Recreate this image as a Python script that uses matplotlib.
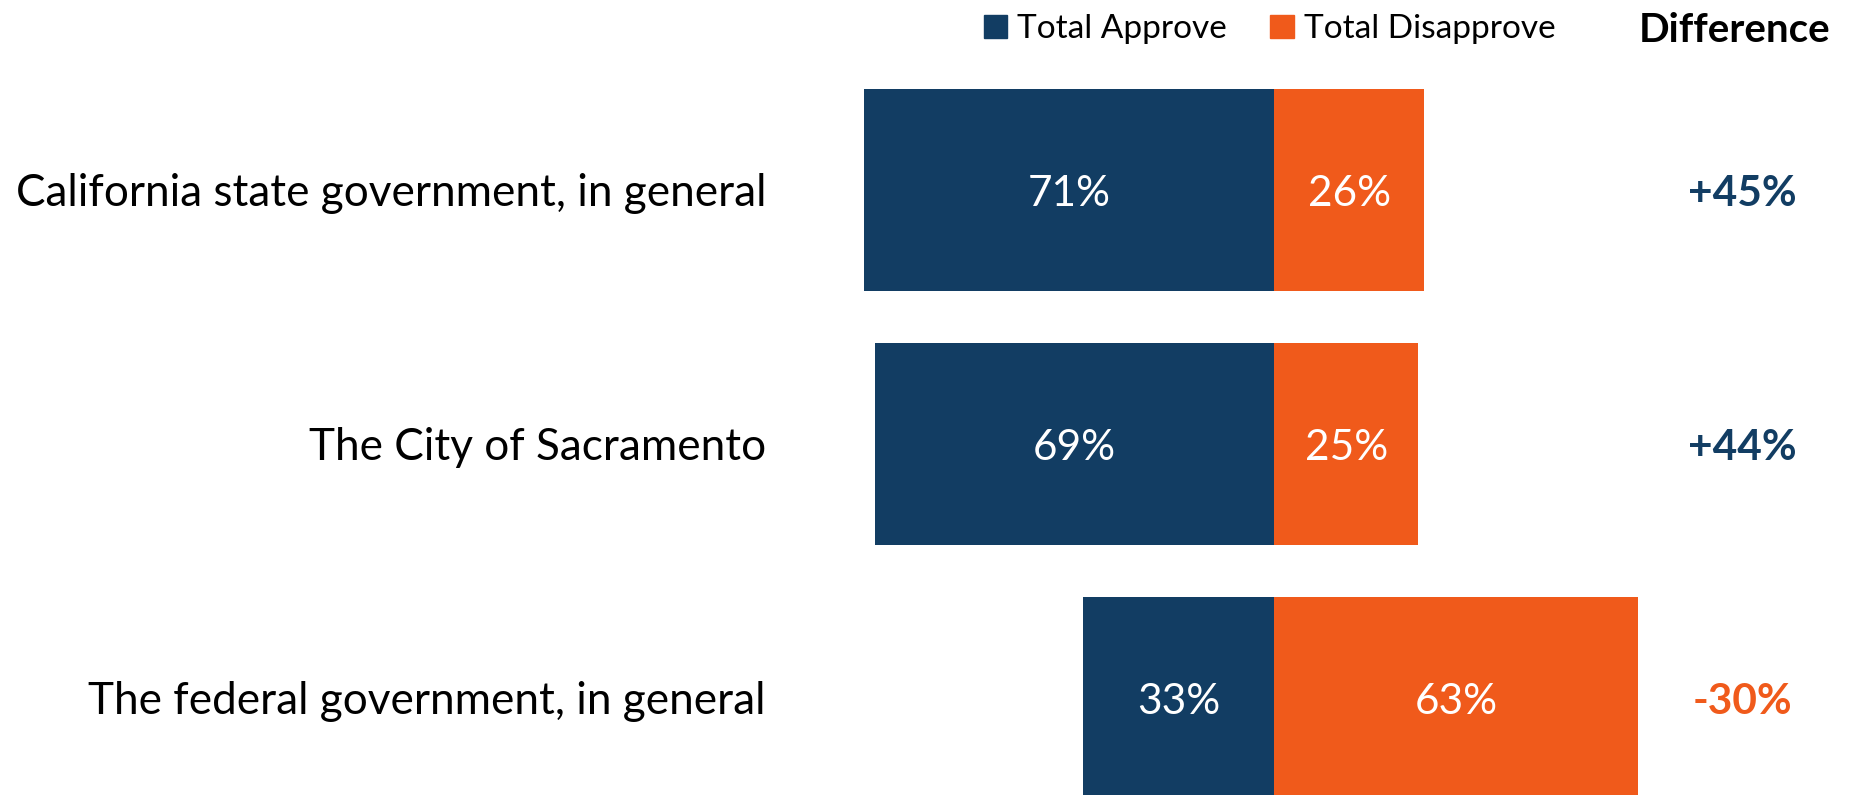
import matplotlib.pyplot as plt
from matplotlib.patches import Patch
import matplotlib.transforms as mtransforms

plt.rcParams['font.family'] = ['Lato', 'DejaVu Sans']

# --- data ---
categories = [
    "California state government, in general",
    "The City of Sacramento",
    "The federal government, in general",
]
approve = [71, 69, 33]
disapprove = [26, 25, 63]
difference = [45, 44, -30]

NAVY = "#123D63"
ORANGE = "#F05A1B"

fig = plt.figure(figsize=(18.62, 7.95), dpi=100)
ax = fig.add_axes([0, 0, 1, 1])

ypos = list(range(len(categories)))
bar_h = 0.795

# approve goes left of zero, disapprove to the right
ax.barh(ypos, [-a for a in approve], height=bar_h, color=NAVY, linewidth=0)
ax.barh(ypos, disapprove, height=bar_h, color=ORANGE, linewidth=0)

# zero at x=1274px, 5.78 px per percent
ax.set_xlim(-1274 / 5.78, (1862 - 1274) / 5.78)
ax.set_ylim((795 - 190) / 254, -190 / 254)
ax.axis("off")

# small nudge so text sits like the original
dy = 0.014
lab_tr = mtransforms.blended_transform_factory(ax.transAxes, ax.transData)
for i, cat in enumerate(categories):
    ax.text(-approve[i] / 2, i + dy, f"{approve[i]}%", color="white",
            ha="center", va="center", fontsize=30.5)
    ax.text(disapprove[i] / 2, i + dy, f"{disapprove[i]}%", color="white",
            ha="center", va="center", fontsize=30.5)
    ax.text(766 / 1862, i + dy, cat, transform=lab_tr, ha="right", va="center",
            fontsize=31.8, color="black")
    d = difference[i]
    ax.text(1742 / 1862, i + dy, f"{d:+d}%", transform=lab_tr, ha="center",
            va="center", fontsize=30.5, fontweight="bold",
            color=NAVY if d >= 0 else ORANGE)

fig.text(1735 / 1862, 1 - 31 / 795, "Difference", ha="center", va="center",
         fontsize=29, fontweight="bold", color="black")

handles = [Patch(color=NAVY, label="Total Approve"),
           Patch(color=ORANGE, label="Total Disapprove")]
fig.legend(handles=handles, loc="center", ncol=2, frameon=False,
           bbox_to_anchor=(1069 * 1.1875 / 1862, 1 - 29 / 795),
           fontsize=24, handlelength=0.7, handleheight=0.7,
           handletextpad=0.3, columnspacing=1.3)

fig.savefig("out.png", dpi=100)
